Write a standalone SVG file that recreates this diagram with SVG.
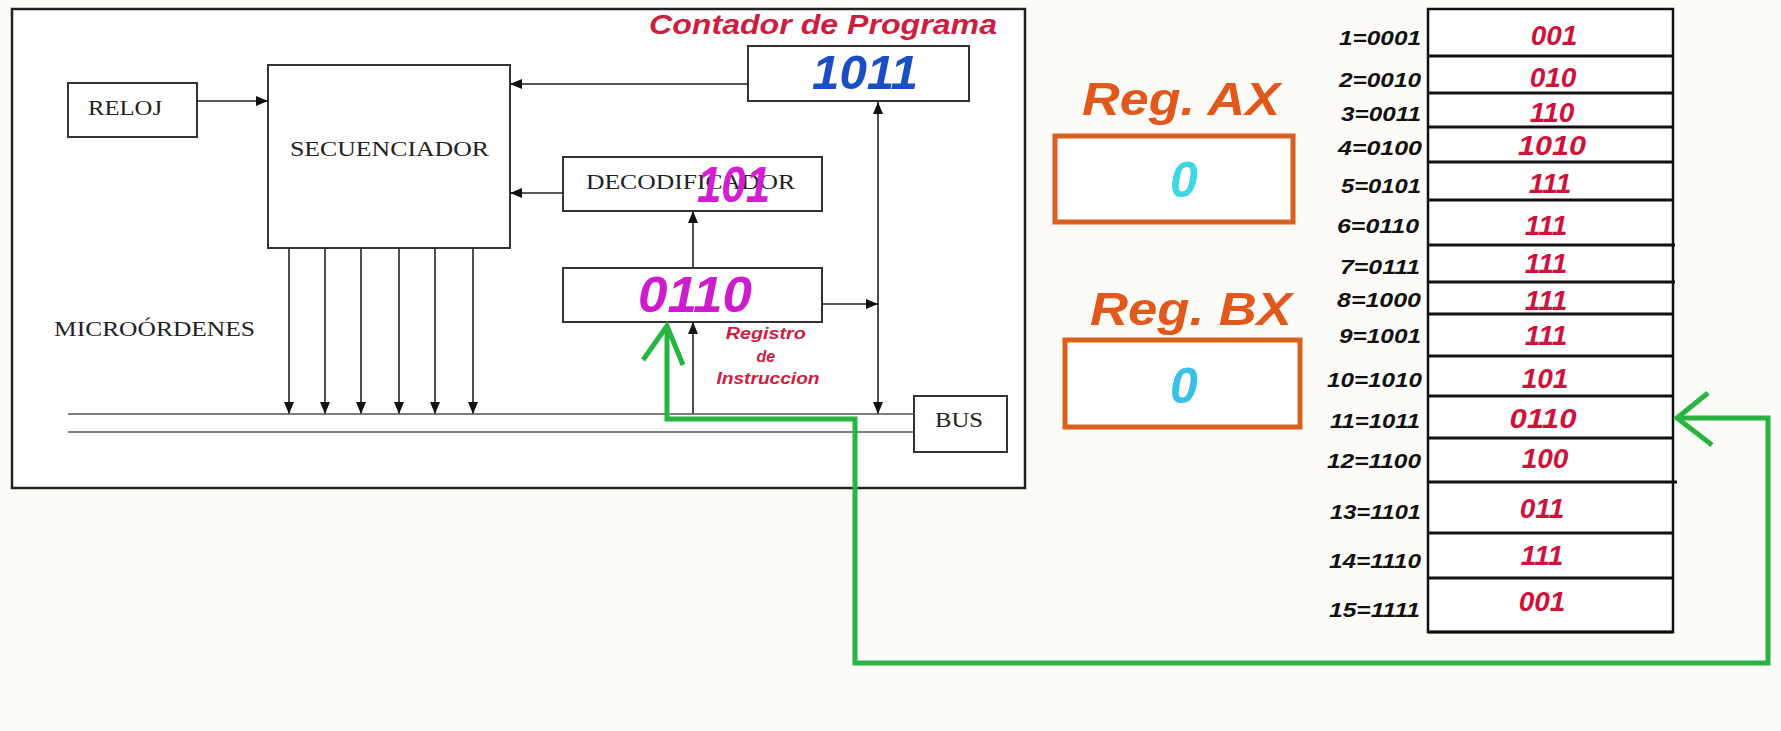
<svg xmlns="http://www.w3.org/2000/svg" width="1781" height="731" viewBox="0 0 1781 731">
<style>
.box{fill:#fff;stroke:#333;stroke-width:2}
.ser{font-family:"Liberation Serif","DejaVu Serif",serif;font-size:22px;fill:#222}
.bi{font-family:"Liberation Sans",Arial,sans-serif;font-weight:bold;font-style:italic}
.con{stroke:#222;stroke-width:1.6;fill:none}
.bus{stroke:#555;stroke-width:1.6;fill:none}
.green{stroke:#27b440;stroke-width:5;fill:none;stroke-linejoin:miter}
.row{stroke:#111;stroke-width:3}
.lbl{font-size:20px;fill:#111;text-anchor:end}
.val{font-size:28px;fill:#cf123c;text-anchor:middle}
.reg{font-size:46px;fill:#e0581c}
.regbox{fill:#fff;stroke:#d9601e;stroke-width:5}
</style>
<defs>
<marker id="ah" markerUnits="userSpaceOnUse" markerWidth="13" markerHeight="11" refX="12" refY="5" orient="auto-start-reverse">
<path d="M0,0 L12,5 L0,10 z" fill="#111"/>
</marker>
</defs>
<rect width="1781" height="731" fill="#fcfbf7"/>
<g id="cpu">
<rect x="12" y="9" width="1013" height="479" fill="#fff" stroke="#222" stroke-width="2.5"/>
</g>
<g id="reloj">
<rect class="box" x="68" y="83" width="129" height="54"/>
<text class="ser" x="88" y="115" textLength="74" lengthAdjust="spacingAndGlyphs">RELOJ</text>
</g>
<g id="secuenciador">
<rect class="box" x="268" y="65" width="242" height="183"/>
<text class="ser" x="290" y="156" textLength="199" lengthAdjust="spacingAndGlyphs">SECUENCIADOR</text>
</g>
<g id="microordenes">
<text class="ser" x="54" y="336" textLength="201" lengthAdjust="spacingAndGlyphs">MICROÓRDENES</text>
</g>
<g id="contador">
<text class="bi" x="649" y="34" font-size="27" fill="#cc1f3f" textLength="348" lengthAdjust="spacingAndGlyphs">Contador de Programa</text>
<rect class="box" x="748" y="46" width="221" height="55"/>
<text class="bi" x="812" y="89" font-size="48" fill="#1a4fc4" textLength="106" lengthAdjust="spacingAndGlyphs">1011</text>
</g>
<g id="decodificador">
<rect class="box" x="563" y="157" width="259" height="54"/>
<text class="ser" x="586" y="189" textLength="209" lengthAdjust="spacingAndGlyphs">DECODIFICADOR</text>
<text class="bi" x="697" y="202" font-size="50" fill="#d41fd0" textLength="73" lengthAdjust="spacingAndGlyphs">101</text>
</g>
<g id="registro-instruccion">
<rect class="box" x="563" y="268" width="259" height="54"/>
<text class="bi" x="638" y="312" font-size="50" fill="#cc1ccc" textLength="114" lengthAdjust="spacingAndGlyphs">0110</text>
<text class="bi" font-size="16" fill="#cc2040" text-anchor="middle">
<tspan x="768" y="339" textLength="80" lengthAdjust="spacingAndGlyphs">Registro</tspan>
<tspan x="768" y="362">de</tspan>
<tspan x="768" y="384" textLength="103" lengthAdjust="spacingAndGlyphs">Instruccion</tspan>
</text>
</g>
<g id="bus">
<rect class="box" x="914" y="396" width="93" height="56"/>
<text class="ser" x="935" y="427" textLength="48" lengthAdjust="spacingAndGlyphs">BUS</text>
</g>
<g id="reg-ax">
<text class="bi reg" x="1082" y="115" textLength="198" lengthAdjust="spacingAndGlyphs">Reg. AX</text>
<rect class="regbox" x="1055" y="136" width="238" height="86"/>
<text class="bi" x="1184" y="197" font-size="50" fill="#40d8e0" text-anchor="middle">0</text>
</g>
<g id="reg-bx">
<text class="bi reg" x="1090" y="325" textLength="202" lengthAdjust="spacingAndGlyphs">Reg. BX</text>
<rect class="regbox" x="1065" y="340" width="235" height="87"/>
<text class="bi" x="1184" y="403" font-size="50" fill="#38c0e8" text-anchor="middle">0</text>
</g>
<g id="memoria">
<rect x="1428" y="9" width="245" height="623" fill="#fff" stroke="#111" stroke-width="2.5"/>
<line class="row" x1="1428" y1="56" x2="1673" y2="56"/>
<line class="row" x1="1428" y1="93" x2="1673" y2="93"/>
<line class="row" x1="1428" y1="127" x2="1673" y2="127"/>
<line class="row" x1="1428" y1="162" x2="1673" y2="162"/>
<line class="row" x1="1428" y1="200" x2="1673" y2="200"/>
<line class="row" x1="1428" y1="245" x2="1675" y2="245"/>
<line class="row" x1="1428" y1="282" x2="1675" y2="282"/>
<line class="row" x1="1428" y1="314" x2="1673" y2="314"/>
<line class="row" x1="1428" y1="356" x2="1673" y2="356"/>
<line class="row" x1="1428" y1="396" x2="1673" y2="396"/>
<line class="row" x1="1428" y1="438" x2="1673" y2="438"/>
<line class="row" x1="1428" y1="482" x2="1677" y2="482"/>
<line class="row" x1="1428" y1="533" x2="1673" y2="533"/>
<line class="row" x1="1428" y1="578" x2="1673" y2="578"/>
<line class="row" x1="1428" y1="632" x2="1673" y2="632"/>
<g class="bi lbl">
<text x="1421" y="45" textLength="82" lengthAdjust="spacingAndGlyphs">1=0001</text>
<text x="1421" y="87" textLength="82" lengthAdjust="spacingAndGlyphs">2=0010</text>
<text x="1421" y="121" textLength="80" lengthAdjust="spacingAndGlyphs">3=0011</text>
<text x="1422" y="155" textLength="84" lengthAdjust="spacingAndGlyphs">4=0100</text>
<text x="1421" y="193" textLength="80" lengthAdjust="spacingAndGlyphs">5=0101</text>
<text x="1419" y="233" textLength="82" lengthAdjust="spacingAndGlyphs">6=0110</text>
<text x="1420" y="274" textLength="80" lengthAdjust="spacingAndGlyphs">7=0111</text>
<text x="1421" y="307" textLength="84" lengthAdjust="spacingAndGlyphs">8=1000</text>
<text x="1421" y="343" textLength="82" lengthAdjust="spacingAndGlyphs">9=1001</text>
<text x="1422" y="387" textLength="95" lengthAdjust="spacingAndGlyphs">10=1010</text>
<text x="1420" y="428" textLength="90" lengthAdjust="spacingAndGlyphs">11=1011</text>
<text x="1421" y="468" textLength="94" lengthAdjust="spacingAndGlyphs">12=1100</text>
<text x="1421" y="519" textLength="91" lengthAdjust="spacingAndGlyphs">13=1101</text>
<text x="1421" y="568" textLength="92" lengthAdjust="spacingAndGlyphs">14=1110</text>
<text x="1420" y="617" textLength="91" lengthAdjust="spacingAndGlyphs">15=1111</text>
</g>
<g class="bi val">
<text x="1554" y="45">001</text>
<text x="1553" y="87">010</text>
<text x="1552" y="122">110</text>
<text x="1552" y="155" textLength="68" lengthAdjust="spacingAndGlyphs">1010</text>
<text x="1550" y="193">111</text>
<text x="1546" y="235">111</text>
<text x="1546" y="273">111</text>
<text x="1546" y="310">111</text>
<text x="1546" y="345">111</text>
<text x="1545" y="388">101</text>
<text x="1543" y="428" textLength="67" lengthAdjust="spacingAndGlyphs">0110</text>
<text x="1545" y="468">100</text>
<text x="1542" y="518">011</text>
<text x="1542" y="565">111</text>
<text x="1542" y="611">001</text>
</g>
</g>
<g id="connectors">
<line class="con" x1="197" y1="101" x2="268" y2="101" marker-end="url(#ah)"/>
<line class="con" x1="748" y1="84" x2="510" y2="84" marker-end="url(#ah)"/>
<line class="con" x1="563" y1="193" x2="510" y2="193" marker-end="url(#ah)"/>
<line class="con" x1="693" y1="268" x2="693" y2="211" marker-end="url(#ah)"/>
<line class="con" x1="693" y1="414" x2="693" y2="322" marker-end="url(#ah)"/>
<line class="con" x1="822" y1="304" x2="878" y2="304" marker-end="url(#ah)"/>
<line class="con" x1="878" y1="102" x2="878" y2="414" marker-start="url(#ah)" marker-end="url(#ah)"/>
<line class="con" x1="289" y1="248" x2="289" y2="414" marker-end="url(#ah)"/>
<line class="con" x1="325" y1="248" x2="325" y2="414" marker-end="url(#ah)"/>
<line class="con" x1="361" y1="248" x2="361" y2="414" marker-end="url(#ah)"/>
<line class="con" x1="399" y1="248" x2="399" y2="414" marker-end="url(#ah)"/>
<line class="con" x1="435" y1="248" x2="435" y2="414" marker-end="url(#ah)"/>
<line class="con" x1="473" y1="248" x2="473" y2="414" marker-end="url(#ah)"/>
<line class="bus" x1="68" y1="414" x2="914" y2="414"/>
<line class="bus" x1="68" y1="432" x2="914" y2="432"/>
<path class="green" d="M1677,418 L1768,418 L1768,663 L855,663 L855,419 L667,419 L667,326"/>
<path class="green" d="M643,360 L667,326 L683,365"/>
<path class="green" d="M1708,393 L1677,418 L1712,445"/>
</g>
</svg>
